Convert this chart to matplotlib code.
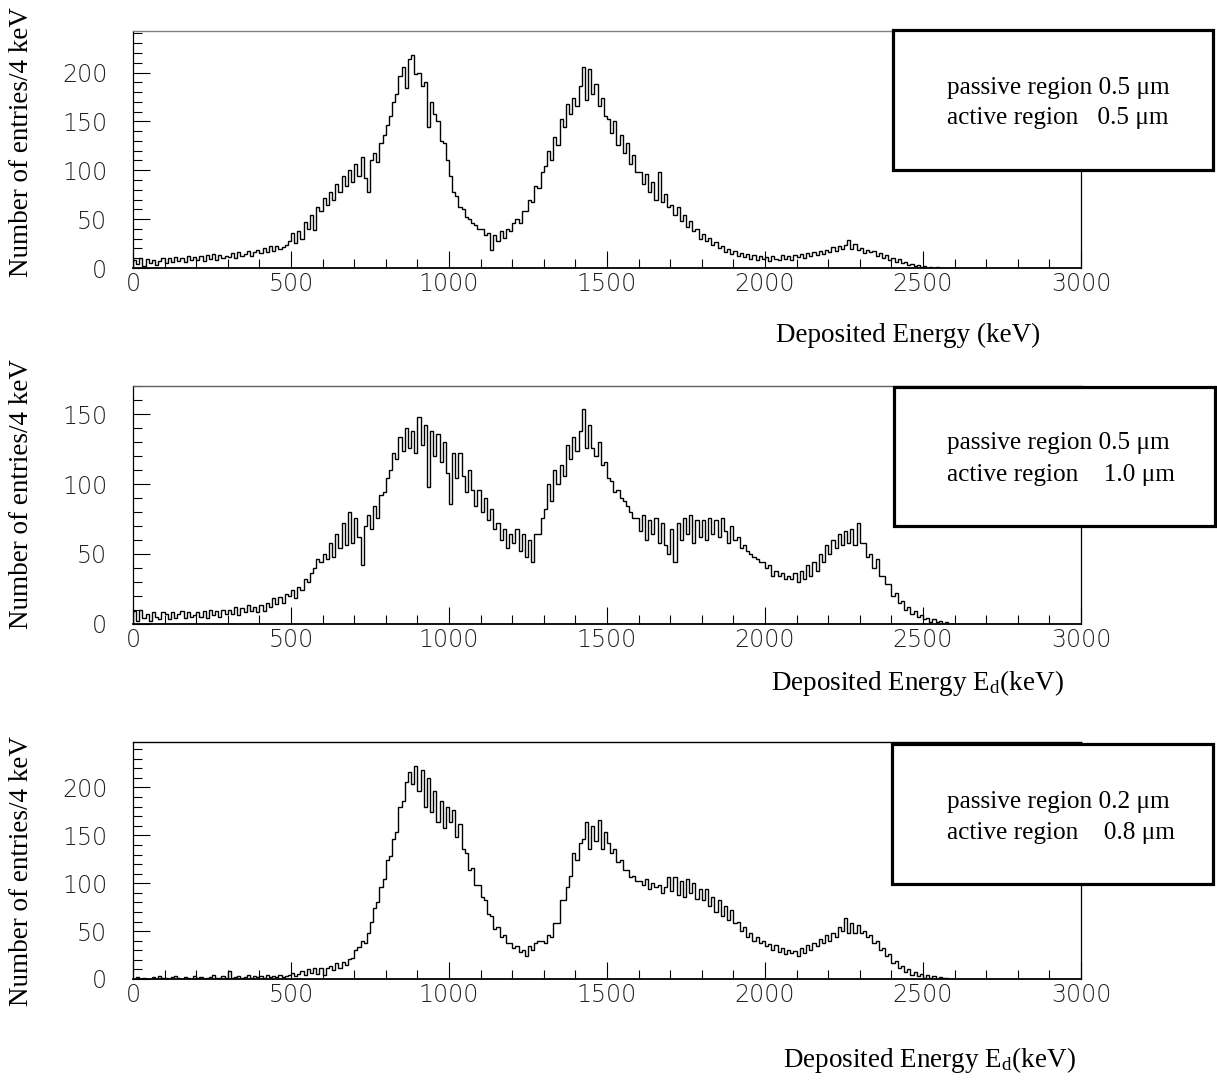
import numpy as np
import matplotlib
matplotlib.use("Agg")
import matplotlib.pyplot as plt
from matplotlib.patches import Rectangle
from matplotlib.ticker import MultipleLocator

plt.rcParams['mathtext.fontset'] = 'custom'
plt.rcParams['mathtext.rm'] = 'Liberation Serif'
plt.rcParams['mathtext.it'] = 'Liberation Serif:italic'

# ---------------- data (entries per 4 keV, sampled in 10 keV steps) ----------------
bin_width = 10  # keV per drawn step
x_ticks = [0, 500, 1000, 1500, 2000, 2500, 3000]

counts_p05_a05 = [
    8, 4, 10, 2, 9, 5, 8, 3, 7, 10,
    5, 10, 6, 11, 7, 10, 6, 12, 8, 11,
    8, 12, 7, 13, 9, 14, 8, 13, 10, 12,
    11, 15, 10, 16, 12, 14, 17, 12, 16, 18,
    15, 20, 16, 22, 17, 23, 19, 21, 24, 28,
    36, 26, 38, 30, 47, 40, 54, 39, 62, 58,
    72, 64, 78, 70, 86, 78, 94, 84, 100, 88,
    106, 94, 114, 92, 78, 110, 118, 108, 128, 136,
    146, 156, 170, 178, 196, 206, 184, 214, 218, 198,
    200, 186, 190, 144, 170, 158, 150, 130, 128, 110,
    94, 78, 74, 62, 60, 52, 50, 46, 44, 40,
    40, 34, 36, 18, 34, 28, 38, 31, 40, 38,
    46, 50, 46, 58, 58, 70, 68, 84, 82, 98,
    104, 120, 110, 134, 126, 152, 144, 168, 158, 174,
    166, 186, 206, 172, 204, 178, 188, 166, 174, 156,
    152, 138, 150, 126, 136, 118, 128, 106, 116, 98,
    98, 86, 96, 78, 88, 70, 98, 68, 76, 62,
    64, 54, 62, 48, 54, 42, 48, 38, 40, 30,
    35, 28, 31, 24, 27, 20, 22, 16, 19, 14,
    17, 12, 15, 11, 14, 9, 13, 8, 12, 9,
    11, 7, 12, 9, 8, 13, 9, 12, 8, 13,
    11, 14, 10, 15, 12, 16, 13, 17, 14, 18,
    16, 21, 17, 23, 19, 24, 29, 19, 25, 18,
    20, 15, 18, 16, 17, 12, 15, 10, 13, 8,
    10, 6, 9, 5, 6, 3, 4, 2, 3, 1,
    2, 0, 1, 0, 1, 0, 0, 0, 0, 0,
]

counts_p05_a10 = [
    9, 2, 10, 4, 7, 2, 8, 5, 3, 8,
    7, 3, 8, 4, 7, 9, 4, 8, 5, 6,
    8, 5, 9, 4, 10, 6, 9, 5, 10, 7,
    10, 7, 12, 6, 11, 8, 13, 9, 12, 8,
    13, 9, 15, 12, 18, 14, 19, 15, 21, 20,
    24, 18, 26, 24, 32, 30, 36, 40, 46, 44,
    50, 46, 58, 48, 64, 54, 72, 56, 80, 58,
    76, 62, 42, 70, 78, 68, 84, 76, 92, 94,
    104, 110, 122, 118, 134, 124, 140, 126, 138, 122,
    148, 128, 142, 98, 138, 120, 136, 116, 130, 108,
    86, 122, 104, 122, 106, 94, 110, 96, 84, 96,
    80, 90, 74, 82, 68, 72, 60, 68, 54, 64,
    58, 68, 52, 64, 48, 60, 44, 64, 64, 76,
    82, 100, 88, 110, 100, 114, 106, 128, 118, 134,
    124, 138, 154, 126, 142, 126, 120, 130, 114, 116,
    104, 102, 94, 96, 90, 88, 84, 80, 76, 76,
    66, 78, 60, 74, 64, 76, 58, 72, 56, 50,
    68, 44, 72, 60, 76, 64, 78, 58, 74, 62,
    74, 60, 76, 64, 74, 62, 76, 66, 58, 70,
    60, 62, 54, 56, 52, 50, 48, 46, 44, 44,
    40, 42, 34, 38, 34, 36, 32, 34, 32, 36,
    30, 38, 32, 42, 34, 44, 38, 50, 44, 56,
    50, 60, 54, 64, 56, 66, 58, 68, 56, 72,
    58, 58, 48, 50, 40, 46, 34, 34, 28, 28,
    20, 22, 15, 16, 10, 12, 7, 9, 5, 6,
    3, 4, 1, 3, 1, 2, 0, 1, 0, 0,
]

counts_p02_a08 = [
    0, 2, 0, 1, 0, 0, 2, 0, 3, 1,
    1, 0, 2, 3, 1, 0, 2, 1, 0, 3,
    1, 2, 0, 1, 2, 4, 1, 1, 3, 1,
    8, 1, 2, 3, 1, 2, 4, 1, 3, 2,
    3, 1, 4, 2, 3, 2, 4, 2, 3, 4,
    6, 3, 5, 8, 4, 10, 6, 11, 5, 12,
    4, 11, 14, 9, 17, 12, 18, 15, 21, 22,
    30, 33, 40, 38, 48, 60, 74, 80, 96, 104,
    124, 128, 146, 154, 180, 186, 206, 216, 204, 222,
    196, 218, 180, 210, 174, 196, 164, 186, 158, 180,
    164, 176, 148, 162, 136, 132, 114, 116, 98, 98,
    86, 82, 68, 66, 52, 54, 44, 46, 38, 38,
    32, 34, 28, 30, 24, 34, 30, 38, 40, 40,
    38, 46, 44, 58, 58, 82, 82, 96, 108, 132,
    124, 142, 146, 164, 136, 160, 144, 166, 136, 154,
    142, 132, 136, 122, 124, 114, 114, 106, 108, 102,
    102, 98, 104, 94, 100, 96, 98, 90, 96, 106,
    92, 106, 88, 102, 86, 104, 90, 100, 84, 94,
    82, 94, 76, 86, 70, 82, 66, 76, 62, 72,
    58, 60, 50, 54, 44, 48, 40, 44, 38, 40,
    34, 37, 30, 35, 28, 32, 26, 30, 27, 29,
    24, 32, 27, 35, 30, 38, 34, 42, 38, 46,
    40, 48, 44, 54, 50, 64, 48, 58, 48, 56,
    48, 50, 44, 46, 38, 40, 30, 32, 24, 26,
    17, 19, 12, 14, 7, 10, 4, 7, 3, 5,
    1, 4, 1, 3, 0, 2, 1, 1, 0, 0,
]

legend_texts = [
    ("passive region 0.5 \u03bcm", "active region   0.5 \u03bcm"),
    ("passive region 0.5 \u03bcm", "active region    1.0 \u03bcm"),
    ("passive region 0.2 \u03bcm", "active region    0.8 \u03bcm"),
]
x_labels = [
    "Deposited Energy (keV)",
    r"Deposited Energy E$_{\mathrm{d}}$(keV)",
    r"Deposited Energy E$_{\mathrm{d}}$(keV)",
]
y_label = "Number of entries/4 keV"

# ---------------- layout ----------------
W, H = 1217, 1082
fig = plt.figure(figsize=(W / 100, H / 100), dpi=100)


def fx(px):
    return px / W


def fy(py):
    return 1 - py / H


serif = "Liberation Serif"
tickfont = dict(family="DejaVu Sans", size=17, weight="light")

panels = [
    dict(vals=counts_p05_a05, top=31, bot=268, ymax=242.5, box=(893, 30, 1213, 170),
         ty=(88, 118), xl=(908, 335), yl=142, topc="#808080"),
    dict(vals=counts_p05_a10, top=386, bot=623.5, ymax=170.3, box=(894, 387, 1215, 526),
         ty=(443, 475), xl=(917, 683), yl=494, topc="#606060"),
    dict(vals=counts_p02_a08, top=742, bot=979, ymax=247.5, box=(892, 744, 1213, 884),
         ty=(802, 833), xl=(929, 1060), yl=871, topc="#000000"),
]

for i, p in enumerate(panels):
    ax = fig.add_axes([fx(133), fy(p["bot"]), fx(1081) - fx(133), (p["bot"] - p["top"]) / H])
    vals = np.array(p["vals"], dtype=float)
    edges = np.arange(len(vals) + 1) * bin_width
    ax.stairs(vals, edges, color="black", linewidth=1.0, baseline=0)
    ax.set_xlim(0, 3000)
    ax.set_ylim(0, p["ymax"])
    ax.set_xticks(x_ticks)
    ax.xaxis.set_minor_locator(MultipleLocator(100))
    ax.yaxis.set_major_locator(MultipleLocator(50))
    ax.yaxis.set_minor_locator(MultipleLocator(10))
    ax.tick_params(which="major", direction="in", length=12.5, width=0.8, color="black")
    ax.tick_params(which="minor", direction="in", length=6.5, width=0.8, color="black")
    ax.tick_params(axis="x", which="major", pad=3.0)
    ax.tick_params(axis="y", which="major", pad=18.5)
    for lab in ax.get_xticklabels() + ax.get_yticklabels():
        lab.set_fontfamily(tickfont["family"])
        lab.set_fontsize(tickfont["size"])
        lab.set_fontweight(tickfont["weight"])
        lab.set_color("#222222")
    ax.spines["top"].set_color(p["topc"])
    ax.spines["top"].set_linewidth(1.0)
    ax.spines["bottom"].set_linewidth(1.3)
    ax.spines["left"].set_linewidth(0.9)
    ax.spines["right"].set_linewidth(0.9)

    x0, y0, x1, y1 = p["box"]
    rect = Rectangle((fx(x0), fy(y1)), fx(x1) - fx(x0), (y1 - y0) / H,
                     transform=fig.transFigure, facecolor="white", edgecolor="black",
                     linewidth=2.3, zorder=5)
    fig.patches.append(rect)
    for line, ty in zip(legend_texts[i], p["ty"]):
        fig.text(fx(947), fy(ty), line, family=serif, fontsize=18.2, ha="left", va="center", zorder=6)

    fig.text(fx(p["xl"][0]), fy(p["xl"][1]), x_labels[i], family=serif, fontsize=19.5,
             ha="center", va="center")
    fig.text(fx(22), fy(p["yl"]), y_label, family=serif, fontsize=19.5, rotation=90,
             ha="center", va="center")

fig.savefig("out.png", dpi=100)
